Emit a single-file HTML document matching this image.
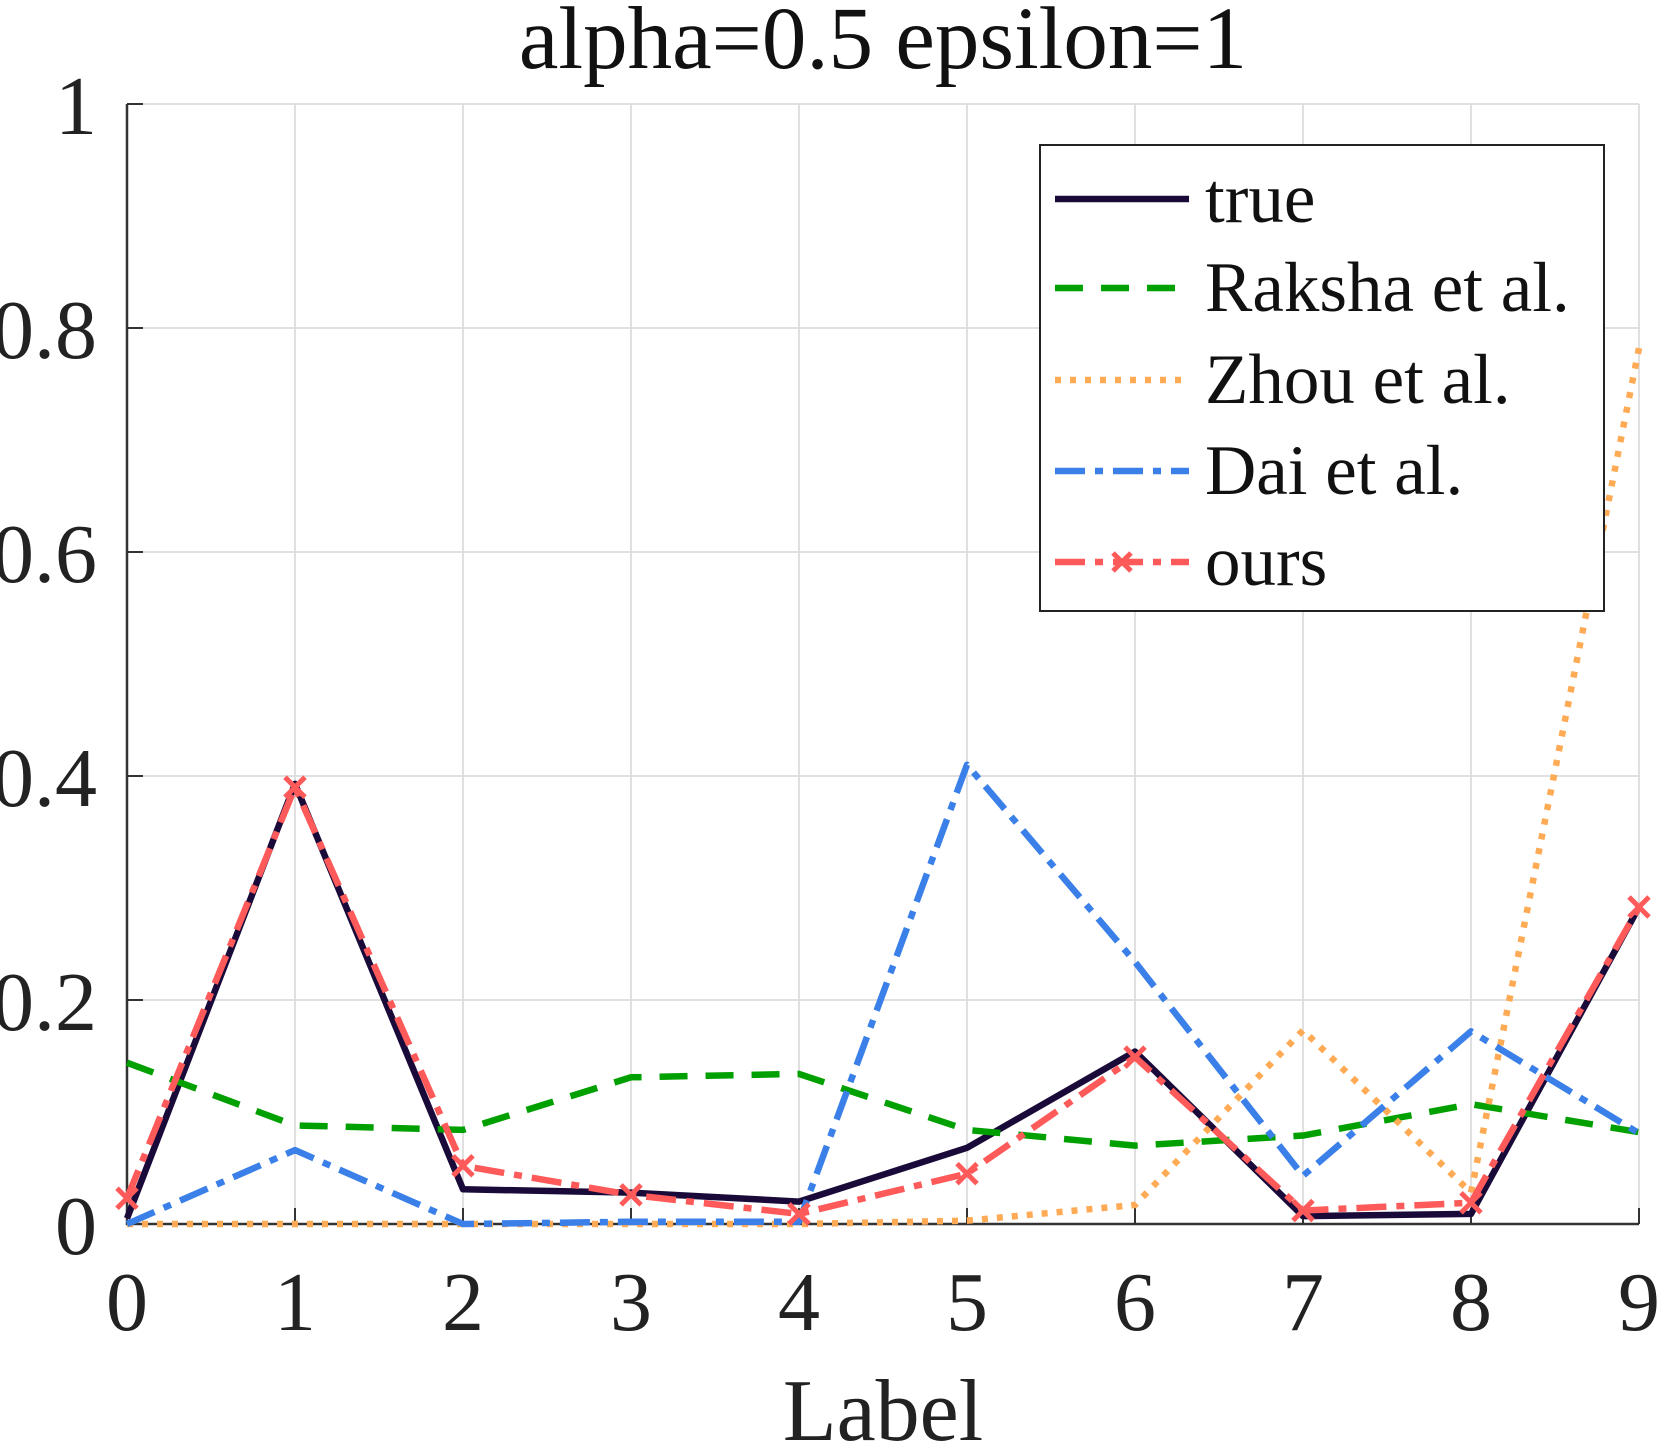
<!DOCTYPE html>
<html><head><meta charset="utf-8"><style>
html,body{margin:0;padding:0;background:#fff;}
svg{display:block;}
svg text{font-family:"Liberation Serif","Times New Roman",serif;}
</style></head><body>
<svg id="chart" width="1661" height="1445" viewBox="0 0 1661 1445" xmlns="http://www.w3.org/2000/svg">
<text x="883" y="68" font-size="89" text-anchor="middle" fill="#111">alpha=0.5 epsilon=1</text>
<g id="grid"></g><g id="axes"></g><g id="series"></g><g id="legend"></g>
<text x="883" y="1440" font-size="88" text-anchor="middle" fill="#222">Label</text>
</svg>
<script>
const categories=[0,1,2,3,4,5,6,7,8,9];
const yTicks=[0,0.2,0.4,0.6,0.8,1];
const yTickLabels=["0","0.2","0.4","0.6","0.8","1"];
const trueVals=[0.005,0.393,0.031,0.028,0.02,0.068,0.154,0.007,0.009,0.283];
const rakshaVals=[0.144,0.088,0.084,0.131,0.134,0.084,0.07,0.079,0.107,0.082];
const zhouVals=[0,0,0,0,0,0.003,0.017,0.173,0.028,0.782];
const daiVals=[0,0.066,0,0.002,0.002,0.41,0.234,0.043,0.172,0.081];
const oursVals=[0.023,0.39,0.052,0.026,0.009,0.045,0.149,0.012,0.019,0.283];
const NS="http://www.w3.org/2000/svg";
const L=127,R=1639,T=104,B=1224;
const xs=v=>L+(v-0)/9*(R-L);
const ys=v=>B-v*(B-T);
function mk(t,a,p){const e=document.createElementNS(NS,t);for(const k in a)e.setAttribute(k,a[k]);p.appendChild(e);return e;}
const grid=document.getElementById('grid'),axes=document.getElementById('axes'),series=document.getElementById('series'),legend=document.getElementById('legend');
categories.forEach(c=>{
 const g=mk('line',{x1:xs(c),x2:xs(c),y1:T,y2:B,stroke:'#e0e0e0','stroke-width':2},grid);
 
 
 const tk=mk('line',{x1:xs(c),x2:xs(c),y1:B,y2:B-16,stroke:'#333','stroke-width':2},axes);
 
 
 const t=mk('text',{x:xs(c),y:1330,'font-size':84,'text-anchor':'middle',fill:'#222'},axes);
 t.textContent=c;
 
 
});
yTicks.forEach((v,i)=>{
 const g=mk('line',{x1:L,x2:R,y1:ys(v),y2:ys(v),stroke:'#e0e0e0','stroke-width':2},grid);
 
 
 const tk=mk('line',{x1:L,x2:L+16,y1:ys(v),y2:ys(v),stroke:'#333','stroke-width':2},axes);
 
 
 const t=mk('text',{x:97,y:ys(v)+30,'font-size':84,'text-anchor':'end',fill:'#222'},axes);
 t.textContent=yTickLabels[i];
 
 
});
const ax=mk('path',{d:`M${L},${T}V${B}H${R}`,fill:'none',stroke:'#333','stroke-width':2.5},axes);


const defs=[
 {name:'true',vals:trueVals,color:'#1a0a3a',dash:'',label:'true'},
 {name:'raksha',vals:rakshaVals,color:'#00a000',dash:'28 18',label:'Raksha et al.'},
 {name:'zhou',vals:zhouVals,color:'#ffaa55',dash:'6 9',label:'Zhou et al.'},
 {name:'dai',vals:daiVals,color:'#3a80e8',dash:'30 10 8 10',label:'Dai et al.'},
 {name:'ours',vals:oursVals,color:'#ff5a5a',dash:'30 10 8 10',label:'ours',marker:true}
];
defs.forEach(s=>{
 const d=s.vals.map((v,i)=>(i?'L':'M')+xs(categories[i])+','+ys(v)).join('');
 const p=mk('path',{d:d,fill:'none',stroke:s.color,'stroke-width':6.5,'stroke-dasharray':s.dash,'stroke-linejoin':'round'},series);
 
 
 if(s.marker){s.vals.forEach((v,i)=>{
  const x=xs(categories[i]),y=ys(v),r=10;
  const m=mk('path',{d:`M${x-r},${y-r}L${x+r},${y+r}M${x-r},${y+r}L${x+r},${y-r}`,stroke:s.color,'stroke-width':5},series);
  
  
 });}
});
const box=mk('rect',{x:1040,y:145,width:564,height:466,fill:'#fff',stroke:'#222','stroke-width':2},legend);


const ly=[199,288,380,471,562];
defs.forEach((s,i)=>{
 const g=mk('g',{},legend);
 
 
 mk('line',{x1:1055,x2:1189,y1:ly[i],y2:ly[i],stroke:s.color,'stroke-width':6.5,'stroke-dasharray':s.dash},g);
 if(s.marker){const x=1122,y=ly[i],r=9;mk('path',{d:`M${x-r},${y-r}L${x+r},${y+r}M${x-r},${y+r}L${x+r},${y-r}`,stroke:s.color,'stroke-width':5},g);}
 const t=mk('text',{x:1205,y:ly[i]+23,'font-size':71,fill:'#111'},g);
 t.textContent=s.label;
});
</script>
</body></html>
